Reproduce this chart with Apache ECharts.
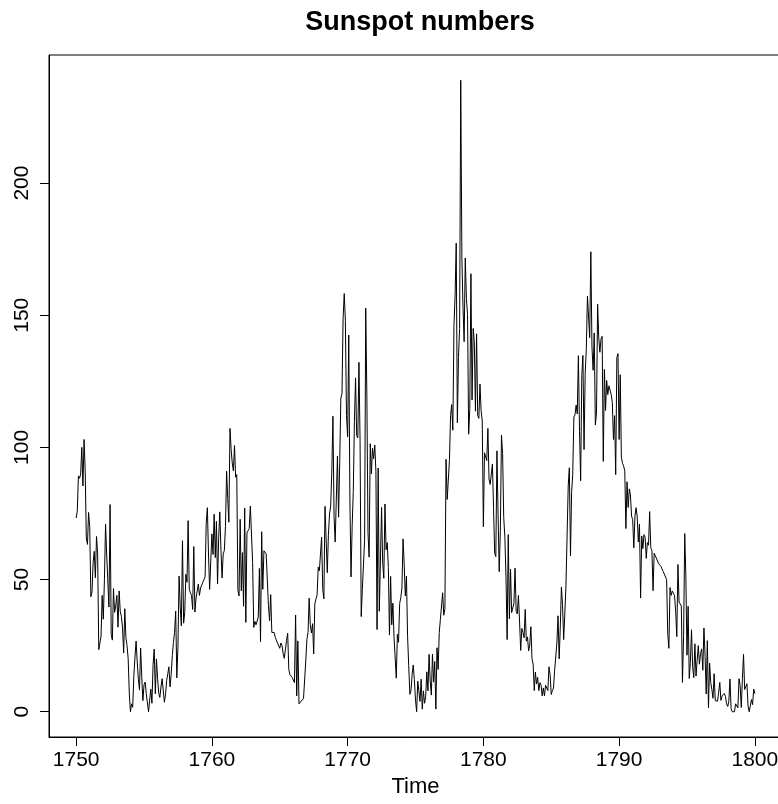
<!DOCTYPE html>
<html>
<head>
<meta charset="utf-8">
<script src="https://cdn.jsdelivr.net/npm/echarts@6/dist/echarts.min.js"></script>
<style>
  html, body { margin: 0; padding: 0; background: #fff; }
  #chart { width: 778px; height: 804px; }
</style>
</head>
<body>
<div id="chart"></div>
<script>
// monthly sunspot numbers, one array per decade (Jan..Dec for each year)
const s1750s = [
  73.3, 75.9, 89.2, 88.3, 90.0, 100.0, 85.4, 103.0, 91.2, 65.7, 63.3, 75.4,
  70.0, 43.5, 45.3, 56.4, 60.7, 50.7, 66.3, 59.8, 23.5, 23.2, 28.5, 44.0,
  35.0, 50.0, 71.0, 59.3, 59.7, 39.6, 78.4, 29.3, 27.1, 46.6, 37.6, 40.0,
  44.0, 32.0, 45.7, 38.0, 36.0, 31.7, 22.2, 39.0, 28.0, 25.0, 20.0, 6.7,
  0.0, 3.0, 1.7, 13.7, 20.7, 26.7, 18.8, 12.3, 8.2, 24.1, 13.2, 4.2,
  10.2, 11.2, 6.8, 6.5, 0.0, 0.0, 8.6, 3.2, 17.8, 23.7, 6.8, 20.0,
  12.5, 7.1, 5.4, 9.4, 12.5, 12.9, 3.6, 6.4, 11.8, 14.3, 17.0, 9.4,
  14.1, 21.2, 26.2, 30.0, 38.1, 12.8, 25.0, 51.3, 39.7, 32.5, 64.7, 33.5,
  37.6, 52.0, 49.0, 72.3, 46.4, 45.0, 44.0, 38.7, 62.5, 37.7, 43.0, 43.0,
  48.3, 44.0, 46.8, 47.0, 49.0, 50.0, 51.0, 71.3, 77.2, 59.7, 46.3, 57.0
];
const s1760s = [
  67.3, 59.5, 74.7, 58.3, 72.0, 48.3, 66.0, 75.6, 61.3, 50.6, 59.7, 61.0,
  70.0, 91.0, 80.7, 71.7, 107.2, 99.3, 94.1, 91.1, 100.7, 88.7, 89.7, 46.0,
  43.8, 72.8, 45.7, 60.2, 39.9, 77.1, 33.8, 67.7, 68.5, 69.3, 77.8, 77.2,
  56.5, 31.9, 34.2, 32.9, 32.7, 35.8, 54.2, 26.5, 68.1, 46.3, 60.9, 61.4,
  59.7, 59.7, 40.2, 34.4, 44.3, 30.0, 30.0, 30.0, 28.2, 28.0, 26.0, 25.7,
  24.0, 26.0, 25.0, 22.0, 20.2, 20.0, 27.0, 29.7, 16.0, 14.0, 14.0, 13.0,
  12.0, 11.0, 36.6, 6.0, 26.8, 3.0, 3.3, 4.0, 4.3, 5.0, 5.7, 19.2,
  27.4, 30.0, 43.0, 32.9, 29.8, 33.3, 21.9, 40.8, 42.7, 44.1, 54.7, 53.3,
  53.5, 66.1, 46.3, 42.7, 77.7, 77.4, 52.6, 66.8, 74.8, 77.8, 90.6, 111.8,
  73.9, 64.2, 64.3, 96.7, 73.6, 94.4, 118.6, 120.3, 148.8, 158.2, 148.1, 112.0
];
const s1770s = [
  104.0, 142.5, 80.1, 51.0, 70.1, 83.3, 109.8, 126.3, 104.4, 103.6, 132.2, 102.3,
  36.0, 46.2, 46.7, 64.9, 152.7, 119.5, 67.7, 58.5, 101.4, 90.0, 99.7, 95.7,
  100.9, 90.8, 31.1, 92.2, 38.0, 57.0, 77.3, 56.2, 50.5, 78.6, 61.3, 64.0,
  54.6, 29.0, 51.2, 32.9, 41.1, 28.4, 27.7, 12.7, 29.3, 26.3, 40.9, 43.2,
  46.8, 65.4, 55.7, 43.8, 51.3, 28.5, 17.5, 6.6, 7.9, 14.0, 17.7, 12.2,
  4.4, 0.0, 11.6, 11.2, 3.9, 12.3, 1.0, 7.9, 3.2, 5.6, 15.1, 7.9,
  21.7, 11.6, 6.3, 21.8, 11.2, 19.0, 1.0, 24.2, 16.0, 30.0, 35.0, 40.0,
  45.0, 36.5, 39.0, 95.5, 80.3, 80.7, 95.0, 112.0, 116.2, 106.5, 146.0, 157.3,
  177.3, 109.3, 134.0, 145.0, 238.9, 171.6, 153.0, 140.0, 171.7, 156.3, 150.3, 105.0,
  114.7, 165.7, 118.0, 145.0, 140.0, 113.7, 143.0, 112.0, 111.0, 124.0, 114.0, 110.0
];
const s1780s = [
  70.0, 98.0, 98.0, 95.0, 107.2, 88.0, 86.0, 86.0, 93.7, 77.0, 60.0, 58.7,
  98.7, 74.7, 53.0, 68.3, 104.7, 97.7, 73.5, 66.0, 51.0, 27.3, 67.0, 35.2,
  54.0, 37.5, 37.0, 41.0, 54.3, 38.0, 37.0, 44.0, 34.0, 23.2, 31.5, 30.0,
  28.0, 38.7, 26.7, 28.3, 23.0, 25.2, 32.2, 20.0, 18.0, 8.0, 15.0, 10.5,
  13.0, 8.0, 11.0, 10.0, 6.0, 9.0, 6.0, 10.0, 10.0, 8.0, 17.0, 14.0,
  6.5, 8.0, 9.0, 15.7, 20.7, 26.3, 36.3, 20.0, 32.0, 47.2, 40.2, 27.3,
  37.2, 47.6, 47.7, 85.4, 92.3, 59.0, 83.0, 89.7, 111.5, 112.3, 116.0, 112.7,
  134.7, 106.0, 87.4, 127.2, 134.8, 99.2, 128.0, 137.2, 157.3, 157.0, 141.5, 174.0,
  138.0, 129.2, 143.3, 108.5, 113.0, 154.2, 141.5, 136.0, 141.0, 142.0, 94.7, 129.5,
  114.0, 125.3, 120.0, 123.3, 123.5, 120.0, 117.0, 103.0, 112.0, 89.7, 134.0, 135.5
];
const s1790s = [
  103.0, 127.5, 96.3, 94.0, 93.0, 91.0, 69.3, 87.0, 77.3, 84.3, 82.0, 74.0,
  72.7, 62.0, 74.0, 77.2, 73.7, 64.2, 71.0, 43.0, 66.5, 61.7, 67.0, 66.0,
  58.0, 64.0, 63.0, 75.7, 62.0, 61.0, 45.8, 60.0, 59.0, 59.0, 57.0, 56.0,
  56.0, 55.0, 55.5, 53.0, 52.3, 51.0, 50.0, 29.3, 24.0, 47.0, 44.0, 45.7,
  45.0, 44.0, 38.0, 28.4, 55.7, 41.5, 41.0, 40.0, 11.1, 28.5, 67.4, 51.4,
  21.4, 39.9, 12.6, 18.6, 31.0, 17.1, 12.9, 25.7, 13.5, 19.5, 25.0, 18.0,
  22.0, 23.8, 15.7, 31.7, 21.0, 6.7, 26.9, 1.5, 18.4, 11.0, 8.4, 5.1,
  14.4, 4.2, 4.0, 4.0, 7.3, 11.1, 4.3, 6.0, 5.7, 6.9, 5.8, 3.0,
  2.0, 4.0, 12.4, 1.1, 0.0, 0.0, 0.0, 3.0, 2.4, 1.5, 12.5, 9.9,
  1.6, 12.6, 21.7, 8.4, 8.2, 10.6, 2.1, 0.0, 0.0, 4.6, 2.7, 8.6
];
const s1800 = [6.9];

const startYear = 1750;
const xTicks = [1750, 1760, 1770, 1780, 1790, 1800];
const yTicks = [0, 50, 100, 150, 200];

const values = [].concat(s1750s, s1760s, s1770s, s1780s, s1790s, s1800);
const points = values.map((v, i) => [startYear + i / 12, v]);

// R-style 4% axis expansion
const xLo = startYear, xHi = startYear + (values.length - 1) / 12;
const yLo = Math.min(...values), yHi = Math.max(...values);
const xPad = (xHi - xLo) * 0.04, yPad = (yHi - yLo) * 0.04;

const FONT = 'Liberation Sans, Arial, Helvetica, sans-serif';

const chart = echarts.init(document.getElementById('chart'));
chart.setOption({
  animation: false,
  backgroundColor: '#fff',
  title: {
    text: 'Sunspot numbers',
    left: 415,
    top: 4,
    textAlign: 'center',
    textStyle: { fontFamily: FONT, fontWeight: 'bold', fontSize: 27, color: '#000' }
  },
  grid: {
    left: 49, top: 55, width: 733, height: 682,
    outerBoundsMode: 'none',
    containLabel: false,
    show: true, borderColor: '#000', borderWidth: 1, backgroundColor: 'transparent'
  },
  xAxis: {
    type: 'value',
    min: xLo - xPad,
    max: xHi + xPad,
    name: 'Time',
    nameLocation: 'middle',
    nameGap: 32,
    nameTextStyle: { fontFamily: FONT, fontSize: 22, color: '#000' },
    axisLine: { show: true, onZero: false, lineStyle: { color: '#000', width: 1 } },
    axisTick: { show: true, length: 9, customValues: xTicks, lineStyle: { color: '#000' } },
    axisLabel: {
      customValues: xTicks, margin: 13, fontFamily: FONT, fontSize: 21, color: '#000',
      hideOverlap: false,
      formatter: v => String(v)
    },
    splitLine: { show: false }
  },
  yAxis: {
    type: 'value',
    min: yLo - yPad,
    max: yHi + yPad,
    axisLine: { show: true, onZero: false, lineStyle: { color: '#000', width: 1 } },
    axisTick: { show: true, length: 9, customValues: yTicks, lineStyle: { color: '#000' } },
    axisLabel: {
      customValues: yTicks, rotate: 90, margin: 16, fontFamily: FONT, fontSize: 21, color: '#000',
      formatter: v => String(v)
    },
    splitLine: { show: false }
  },
  series: [{
    type: 'line',
    data: points,
    showSymbol: false,
    lineStyle: { color: '#000', width: 1 },
    silent: true
  }]
});
</script>
</body>
</html>
